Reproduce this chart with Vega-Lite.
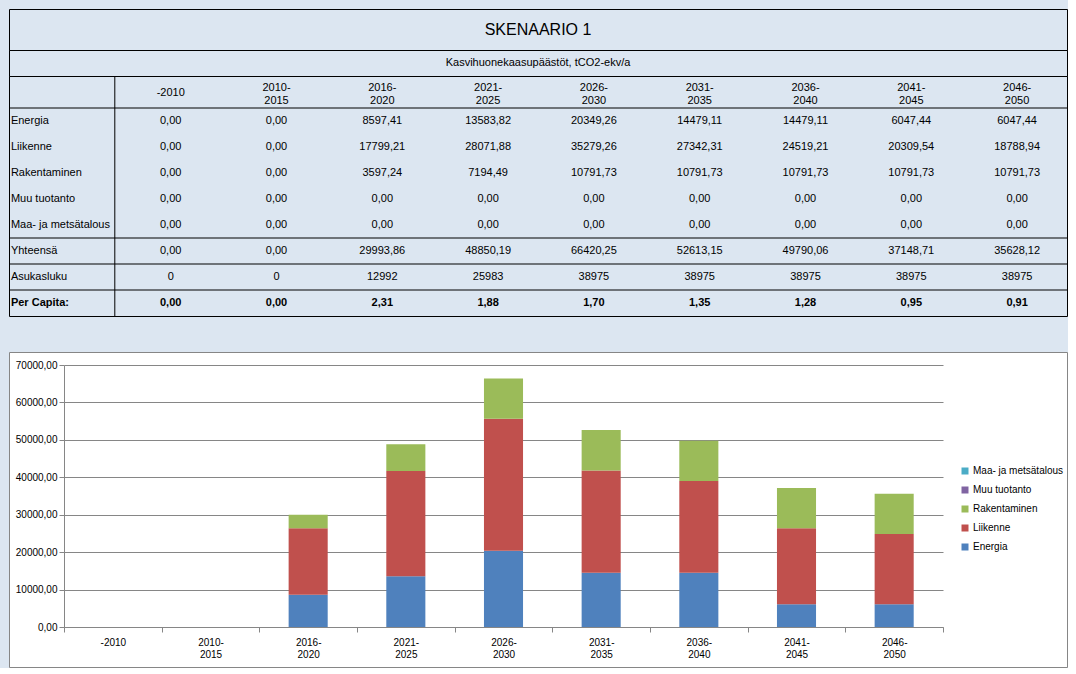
{
  "$schema": "https://vega.github.io/schema/vega-lite/v6.json",
  "background": "#dce6f1",
  "padding": {"left": 8, "top": 8, "right": 0, "bottom": 0},
  "spacing": 34,
  "datasets": {
    "taulukko": [
      {"rivi": "Energia", "jakso": "-2010", "arvo": 0},
      {"rivi": "Energia", "jakso": "2010- 2015", "arvo": 0},
      {"rivi": "Energia", "jakso": "2016- 2020", "arvo": 8597.41},
      {"rivi": "Energia", "jakso": "2021- 2025", "arvo": 13583.82},
      {"rivi": "Energia", "jakso": "2026- 2030", "arvo": 20349.26},
      {"rivi": "Energia", "jakso": "2031- 2035", "arvo": 14479.11},
      {"rivi": "Energia", "jakso": "2036- 2040", "arvo": 14479.11},
      {"rivi": "Energia", "jakso": "2041- 2045", "arvo": 6047.44},
      {"rivi": "Energia", "jakso": "2046- 2050", "arvo": 6047.44},
      {"rivi": "Liikenne", "jakso": "-2010", "arvo": 0},
      {"rivi": "Liikenne", "jakso": "2010- 2015", "arvo": 0},
      {"rivi": "Liikenne", "jakso": "2016- 2020", "arvo": 17799.21},
      {"rivi": "Liikenne", "jakso": "2021- 2025", "arvo": 28071.88},
      {"rivi": "Liikenne", "jakso": "2026- 2030", "arvo": 35279.26},
      {"rivi": "Liikenne", "jakso": "2031- 2035", "arvo": 27342.31},
      {"rivi": "Liikenne", "jakso": "2036- 2040", "arvo": 24519.21},
      {"rivi": "Liikenne", "jakso": "2041- 2045", "arvo": 20309.54},
      {"rivi": "Liikenne", "jakso": "2046- 2050", "arvo": 18788.94},
      {"rivi": "Rakentaminen", "jakso": "-2010", "arvo": 0},
      {"rivi": "Rakentaminen", "jakso": "2010- 2015", "arvo": 0},
      {"rivi": "Rakentaminen", "jakso": "2016- 2020", "arvo": 3597.24},
      {"rivi": "Rakentaminen", "jakso": "2021- 2025", "arvo": 7194.49},
      {"rivi": "Rakentaminen", "jakso": "2026- 2030", "arvo": 10791.73},
      {"rivi": "Rakentaminen", "jakso": "2031- 2035", "arvo": 10791.73},
      {"rivi": "Rakentaminen", "jakso": "2036- 2040", "arvo": 10791.73},
      {"rivi": "Rakentaminen", "jakso": "2041- 2045", "arvo": 10791.73},
      {"rivi": "Rakentaminen", "jakso": "2046- 2050", "arvo": 10791.73},
      {"rivi": "Muu tuotanto", "jakso": "-2010", "arvo": 0},
      {"rivi": "Muu tuotanto", "jakso": "2010- 2015", "arvo": 0},
      {"rivi": "Muu tuotanto", "jakso": "2016- 2020", "arvo": 0},
      {"rivi": "Muu tuotanto", "jakso": "2021- 2025", "arvo": 0},
      {"rivi": "Muu tuotanto", "jakso": "2026- 2030", "arvo": 0},
      {"rivi": "Muu tuotanto", "jakso": "2031- 2035", "arvo": 0},
      {"rivi": "Muu tuotanto", "jakso": "2036- 2040", "arvo": 0},
      {"rivi": "Muu tuotanto", "jakso": "2041- 2045", "arvo": 0},
      {"rivi": "Muu tuotanto", "jakso": "2046- 2050", "arvo": 0},
      {"rivi": "Maa- ja metsätalous", "jakso": "-2010", "arvo": 0},
      {"rivi": "Maa- ja metsätalous", "jakso": "2010- 2015", "arvo": 0},
      {"rivi": "Maa- ja metsätalous", "jakso": "2016- 2020", "arvo": 0},
      {"rivi": "Maa- ja metsätalous", "jakso": "2021- 2025", "arvo": 0},
      {"rivi": "Maa- ja metsätalous", "jakso": "2026- 2030", "arvo": 0},
      {"rivi": "Maa- ja metsätalous", "jakso": "2031- 2035", "arvo": 0},
      {"rivi": "Maa- ja metsätalous", "jakso": "2036- 2040", "arvo": 0},
      {"rivi": "Maa- ja metsätalous", "jakso": "2041- 2045", "arvo": 0},
      {"rivi": "Maa- ja metsätalous", "jakso": "2046- 2050", "arvo": 0},
      {"rivi": "Yhteensä", "jakso": "-2010", "arvo": 0},
      {"rivi": "Yhteensä", "jakso": "2010- 2015", "arvo": 0},
      {"rivi": "Yhteensä", "jakso": "2016- 2020", "arvo": 29993.86},
      {"rivi": "Yhteensä", "jakso": "2021- 2025", "arvo": 48850.19},
      {"rivi": "Yhteensä", "jakso": "2026- 2030", "arvo": 66420.25},
      {"rivi": "Yhteensä", "jakso": "2031- 2035", "arvo": 52613.15},
      {"rivi": "Yhteensä", "jakso": "2036- 2040", "arvo": 49790.06},
      {"rivi": "Yhteensä", "jakso": "2041- 2045", "arvo": 37148.71},
      {"rivi": "Yhteensä", "jakso": "2046- 2050", "arvo": 35628.12},
      {"rivi": "Asukasluku", "jakso": "-2010", "arvo": 0},
      {"rivi": "Asukasluku", "jakso": "2010- 2015", "arvo": 0},
      {"rivi": "Asukasluku", "jakso": "2016- 2020", "arvo": 12992},
      {"rivi": "Asukasluku", "jakso": "2021- 2025", "arvo": 25983},
      {"rivi": "Asukasluku", "jakso": "2026- 2030", "arvo": 38975},
      {"rivi": "Asukasluku", "jakso": "2031- 2035", "arvo": 38975},
      {"rivi": "Asukasluku", "jakso": "2036- 2040", "arvo": 38975},
      {"rivi": "Asukasluku", "jakso": "2041- 2045", "arvo": 38975},
      {"rivi": "Asukasluku", "jakso": "2046- 2050", "arvo": 38975},
      {"rivi": "Per Capita:", "jakso": "-2010", "arvo": 0},
      {"rivi": "Per Capita:", "jakso": "2010- 2015", "arvo": 0},
      {"rivi": "Per Capita:", "jakso": "2016- 2020", "arvo": 2.31},
      {"rivi": "Per Capita:", "jakso": "2021- 2025", "arvo": 1.88},
      {"rivi": "Per Capita:", "jakso": "2026- 2030", "arvo": 1.70},
      {"rivi": "Per Capita:", "jakso": "2031- 2035", "arvo": 1.35},
      {"rivi": "Per Capita:", "jakso": "2036- 2040", "arvo": 1.28},
      {"rivi": "Per Capita:", "jakso": "2041- 2045", "arvo": 0.95},
      {"rivi": "Per Capita:", "jakso": "2046- 2050", "arvo": 0.91}
    ]
  },
  "vconcat": [
    {
      "spacing": 0,
      "bounds": "flush",
      "vconcat": [
        {
          "width": 1058,
          "height": 41,
          "view": {"stroke": "black", "strokeWidth": 1, "fill": null},
          "data": {"values": [{"otsikko": "SKENAARIO 1"}]},
          "mark": {"type": "text", "fontSize": 16, "font": "Liberation Sans", "color": "black"},
          "encoding": {"text": {"field": "otsikko"}}
        },
        {
          "width": 1058,
          "height": 26,
          "view": {"stroke": "black", "strokeWidth": 1, "fill": null},
          "data": {"values": [{"otsikko": "Kasvihuonekaasupäästöt, tCO2-ekv/a"}]},
          "mark": {"type": "text", "fontSize": 11, "font": "Liberation Sans", "color": "black"},
          "encoding": {"text": {"field": "otsikko"}}
        },
        {
          "width": 1058,
          "height": 240,
          "view": {"stroke": "black", "strokeWidth": 1, "fill": null},
          "data": {"name": "taulukko"},
          "layer": [
            {
              "transform": [{"filter": {"field": "rivi", "oneOf": ["Energia", "Yhteensä", "Asukasluku", "Per Capita:"]}}, {"filter": {"field": "jakso", "equal": "-2010"}}],
              "mark": {"type": "rule", "color": "black", "strokeWidth": 1},
              "encoding": {
                "y": {"field": "rivi", "type": "nominal", "bandPosition": 0}
              }
            },
            {
              "transform": [{"filter": {"field": "rivi", "equal": "Energia"}}, {"filter": {"field": "jakso", "equal": "-2010"}}],
              "mark": {"type": "rule", "color": "black", "strokeWidth": 1},
              "encoding": {
                "x": {"field": "jakso", "type": "nominal", "bandPosition": 0}
              }
            },
            {
              "transform": [{"filter": {"field": "rivi", "oneOf": ["Energia", "Liikenne", "Rakentaminen", "Muu tuotanto", "Maa- ja metsätalous", "Yhteensä"]}}],
              "mark": {"type": "text", "fontSize": 11, "font": "Liberation Sans", "color": "black", "dx": 3},
              "encoding": {
                "x": {"field": "jakso", "type": "nominal"},
                "y": {"field": "rivi", "type": "nominal"},
                "text": {"field": "arvo", "type": "quantitative", "format": ".2f"}
              }
            },
            {
              "transform": [{"filter": {"field": "rivi", "equal": "Asukasluku"}}],
              "mark": {"type": "text", "fontSize": 11, "font": "Liberation Sans", "color": "black", "dx": 3},
              "encoding": {
                "x": {"field": "jakso", "type": "nominal"},
                "y": {"field": "rivi", "type": "nominal"},
                "text": {"field": "arvo", "type": "quantitative", "format": "d"}
              }
            },
            {
              "transform": [{"filter": {"field": "rivi", "equal": "Per Capita:"}}],
              "mark": {"type": "text", "fontSize": 11, "font": "Liberation Sans", "color": "black", "fontWeight": "bold", "dx": 3},
              "encoding": {
                "x": {"field": "jakso", "type": "nominal"},
                "y": {"field": "rivi", "type": "nominal"},
                "text": {"field": "arvo", "type": "quantitative", "format": ".2f"}
              }
            },
            {
              "transform": [{"filter": {"field": "jakso", "equal": "-2010"}}, {"filter": {"not": {"field": "rivi", "equal": "Per Capita:"}}}],
              "mark": {"type": "text", "fontSize": 11, "font": "Liberation Sans", "color": "black", "align": "left", "dx": -51},
              "encoding": {
                "x": {"datum": "Rivi", "type": "nominal"},
                "y": {"field": "rivi", "type": "nominal"},
                "text": {"field": "rivi"}
              }
            },
            {
              "transform": [{"filter": {"field": "jakso", "equal": "-2010"}}, {"filter": {"field": "rivi", "equal": "Per Capita:"}}],
              "mark": {"type": "text", "fontSize": 11, "font": "Liberation Sans", "color": "black", "fontWeight": "bold", "align": "left", "dx": -51},
              "encoding": {
                "x": {"datum": "Rivi", "type": "nominal"},
                "y": {"field": "rivi", "type": "nominal"},
                "text": {"field": "rivi"}
              }
            },
            {
              "transform": [{"filter": {"field": "rivi", "equal": "Energia"}}, {"filter": {"field": "jakso", "equal": "-2010"}}],
              "mark": {"type": "text", "fontSize": 11, "font": "Liberation Sans", "color": "black", "dx": 3, "dy": -2},
              "encoding": {
                "x": {"field": "jakso", "type": "nominal"},
                "y": {"datum": "Otsikko", "type": "nominal"},
                "text": {"field": "jakso"}
              }
            },
            {
              "transform": [{"filter": {"field": "rivi", "equal": "Energia"}}, {"filter": {"not": {"field": "jakso", "equal": "-2010"}}}],
              "mark": {"type": "text", "fontSize": 11, "font": "Liberation Sans", "color": "black", "lineBreak": " ", "lineHeight": 13, "dx": 3, "dy": -7},
              "encoding": {
                "x": {"field": "jakso", "type": "nominal"},
                "y": {"datum": "Otsikko", "type": "nominal"},
                "text": {"field": "jakso"}
              }
            }
          ],
          "resolve": {"scale": {"x": "shared", "y": "shared"}},
          "encoding": {
            "x": {"type": "nominal", "scale": {"type": "band", "domain": ["Rivi", "-2010", "2010- 2015", "2016- 2020", "2021- 2025", "2026- 2030", "2031- 2035", "2036- 2040", "2041- 2045", "2046- 2050"], "paddingInner": 0, "paddingOuter": 0}, "axis": null},
            "y": {"type": "nominal", "scale": {"type": "band", "domain": ["Otsikko", "Energia", "Liikenne", "Rakentaminen", "Muu tuotanto", "Maa- ja metsätalous", "Yhteensä", "Asukasluku", "Per Capita:"], "range": [6, 240], "paddingInner": 0, "paddingOuter": 0}, "axis": null}
          }
        }
      ]
    },
    {
      "width": 1058,
      "height": 315,
      "view": {"fill": "white", "stroke": "#868686", "strokeWidth": 1},
      "data": {"name": "taulukko"},
      "transform": [{"filter": {"field": "rivi", "oneOf": ["Energia", "Liikenne", "Rakentaminen", "Muu tuotanto", "Maa- ja metsätalous"]}}],
      "mark": {"type": "bar", "width": {"band": 0.4}},
      "encoding": {
        "x": {
          "field": "jakso", "type": "nominal",
          "sort": ["-2010", "2010- 2015", "2016- 2020", "2021- 2025", "2026- 2030", "2031- 2035", "2036- 2040", "2041- 2045", "2046- 2050"],
          "scale": {"domain": ["-2010", "2010- 2015", "2016- 2020", "2021- 2025", "2026- 2030", "2031- 2035", "2036- 2040", "2041- 2045", "2046- 2050"], "range": [55, 934], "paddingInner": 0, "paddingOuter": 0},
          "axis": {"title": null, "offset": -40, "tickBand": "extent", "labelAngle": 0, "labelExpr": "split(datum.label, ' ')", "labelLineHeight": 12, "labelPadding": 5, "tickSize": 5, "domainColor": "#868686", "tickColor": "#868686", "labelColor": "black", "labelFont": "Liberation Sans", "labelFontSize": 10, "grid": false}
        },
        "y": {
          "field": "arvo", "type": "quantitative", "stack": "zero",
          "scale": {"domain": [0, 70000], "range": [275, 13], "nice": false},
          "axis": {"title": null, "offset": -55, "values": [0, 10000, 20000, 30000, 40000, 50000, 60000, 70000], "format": ".2f", "grid": true, "gridColor": "#868686", "gridOpacity": 1, "domainColor": "#868686", "tickColor": "#868686", "tickSize": 5, "labelPadding": 2, "labelColor": "black", "labelFont": "Liberation Sans", "labelFontSize": 10}
        },
        "color": {
          "field": "rivi", "type": "nominal",
          "scale": {"domain": ["Maa- ja metsätalous", "Muu tuotanto", "Rakentaminen", "Liikenne", "Energia"], "range": ["#4bacc6", "#8064a2", "#9bbb59", "#c0504d", "#4f81bd"]},
          "legend": {"title": null, "orient": "none", "legendX": 951, "legendY": 457, "symbolType": "square", "symbolSize": 49, "symbolStrokeWidth": 0, "labelFont": "Liberation Sans", "labelFontSize": 10, "labelColor": "black", "rowPadding": 9, "labelOffset": 3}
        },
        "order": {"field": "rivi", "sort": "ascending"}
      }
    }
  ],
  "config": {
    "font": "Liberation Sans",
    "locale": {"number": {"decimal": ",", "thousands": " ", "grouping": [3], "currency": ["", " €"]}},
    "axis": {"labelFont": "Liberation Sans"}
  }
}
